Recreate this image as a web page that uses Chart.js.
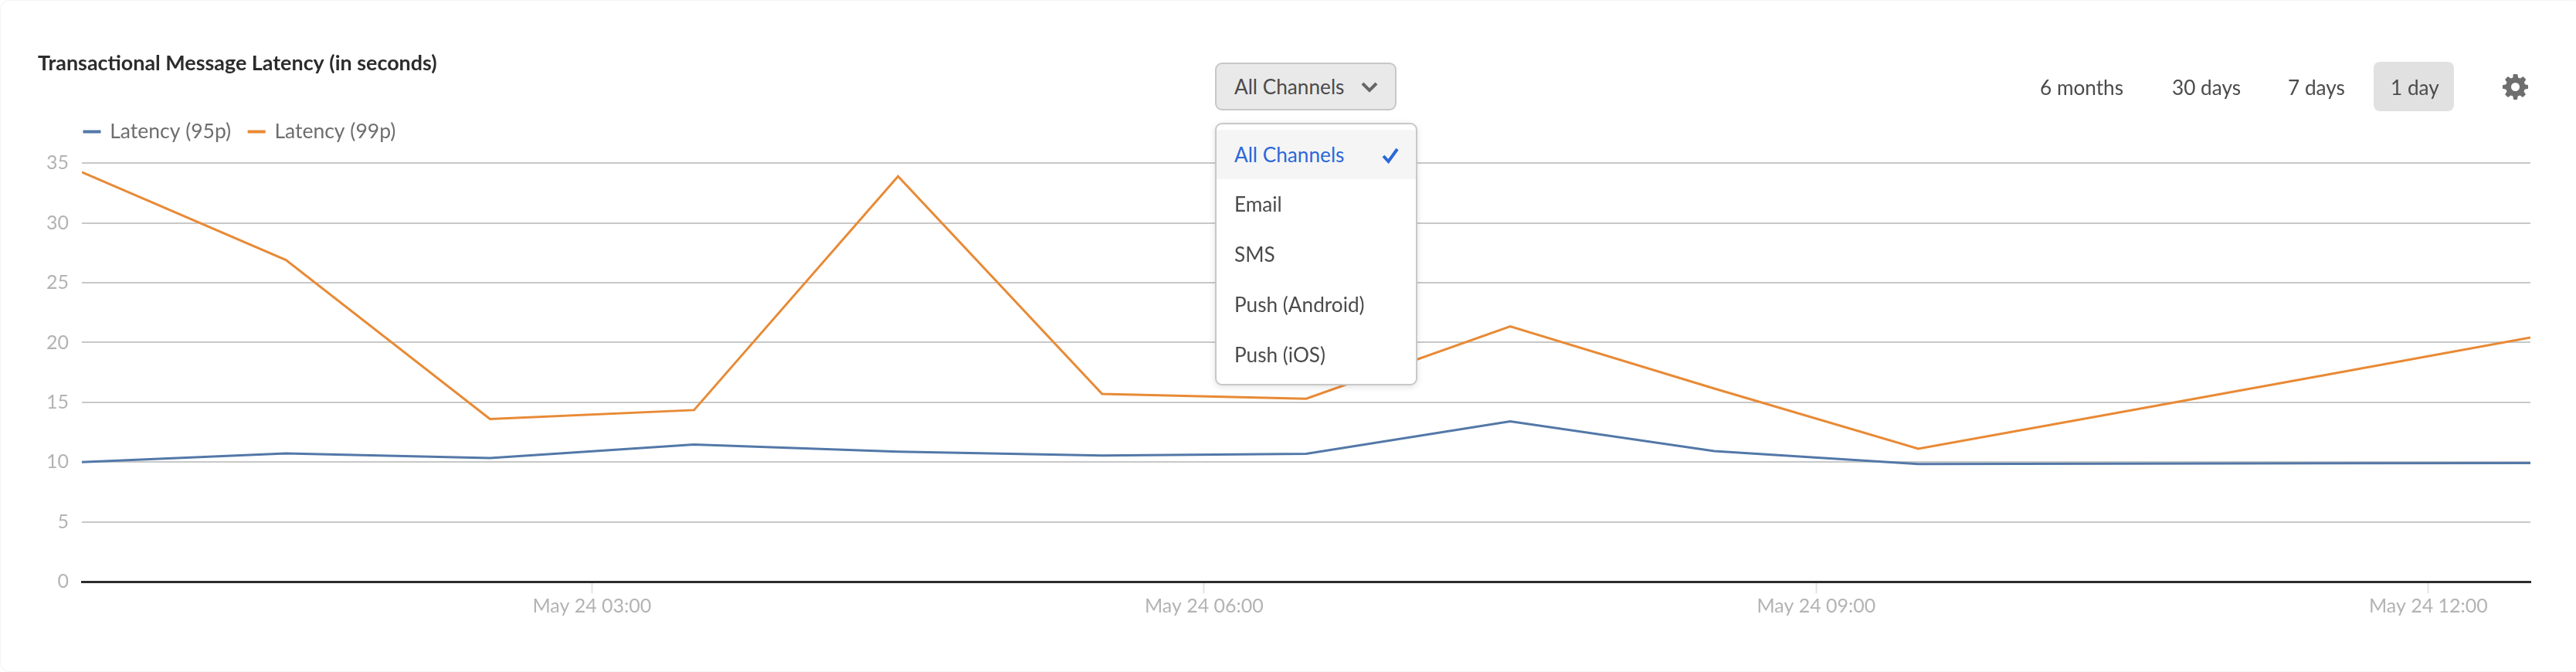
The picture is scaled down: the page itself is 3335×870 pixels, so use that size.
<!DOCTYPE html>
<html>
<head>
<meta charset="utf-8">
<style>
html,body{margin:0;padding:0;background:#fff;width:3335px;height:870px;overflow:hidden;font-family:Lato,sans-serif}
#card{position:absolute;left:0;top:0;width:3340px;height:868px;border:1px solid #f3f3f3;border-radius:12px;box-sizing:content-box}
#wrap{position:absolute;left:0;top:0;width:3335px;height:870px}
.ui{position:absolute;white-space:nowrap;color:#4b4b4b;font-size:26.2px;line-height:32px}
#btn{position:absolute;left:1573px;top:81px;width:235px;height:62px;box-sizing:border-box;background:#e9e9e9;border:2px solid #c8c8c8;border-radius:9px}
#menu{position:absolute;left:1573px;top:159px;width:262px;height:340px;box-sizing:border-box;background:#fff;border:2px solid #c8c8c8;border-radius:9px;box-shadow:0 2px 8px rgba(0,0,0,.12)}
#sel{position:absolute;left:1575px;top:168px;width:258px;height:64px;background:#f5f5f5}
#day{position:absolute;left:3073px;top:80px;width:104px;height:64px;background:#e1e1e1;border-radius:8px}
svg{position:absolute}
</style>
</head>
<body>
<div id="card"></div>
<div id="wrap"><canvas id="c" width="3335" height="870"></canvas></div>
<div id="btn"></div>
<div class="ui" style="left:1598px;top:96px">All Channels</div>
<svg style="left:1762px;top:105px" width="22" height="15" viewBox="0 0 22 15"><path d="M2 3 L11 12 L20 3" fill="none" stroke="#666" stroke-width="4"/></svg>
<div id="menu"></div>
<div id="sel"></div>
<div class="ui" style="left:1598px;top:184px;color:#2b68d8">All Channels</div>
<svg style="left:1788px;top:190px" width="24" height="22" viewBox="0 0 24 22"><path d="M3 12 L9.5 19 L21 3" fill="none" stroke="#2b68d8" stroke-width="4"/></svg>
<div class="ui" style="left:1598px;top:248px">Email</div>
<div class="ui" style="left:1598px;top:313px">SMS</div>
<div class="ui" style="left:1598px;top:378px">Push (Android)</div>
<div class="ui" style="left:1598px;top:443px">Push (iOS)</div>
<div id="day"></div>
<div class="ui" style="left:2641px;top:97px">6 months</div>
<div class="ui" style="left:2812px;top:97px">30 days</div>
<div class="ui" style="left:2962px;top:97px">7 days</div>
<div class="ui" style="left:3095px;top:97px">1 day</div>
<svg style="left:3240px;top:96px" width="33" height="33" viewBox="0 0 24 24"><path fill="#6e6e6e" fill-rule="evenodd" d="M10 0h4l.6 3.2 2 .8L19.300 2.200l2.800 2.800-1.800 2.700.8 2L24 10.300v3.400l-3.200.6-.8 2 1.800 2.700-2.800 2.800-2.700-1.800-2 .8L13.700 24h-3.400l-.6-3.200-2-.8-2.700 1.800-2.800-2.800 1.800-2.700-.8-2L0 13.700v-3.400l3.200-.6.8-2L2.200 5 5 2.200l2.700 1.800 2-.8zM12 8a4 4 0 1 0 0 8 4 4 0 0 0 0-8z"/></svg>

<script src="https://cdn.jsdelivr.net/npm/chart.js@4"></script>
<script>
const chartTitle = 'Transactional Message Latency (in seconds)';
const hours = [0.5,1.5,2.5,3.5,4.5,5.5,6.5,7.5,8.5,9.5,10.5,11.5,12.5];
const latency95 = [10.0,10.72,10.33,11.47,10.87,10.55,10.7,13.4,10.92,9.84,9.87,9.9,9.92];
const latency99 = [34.25,26.9,13.6,14.35,33.9,15.7,15.3,21.35,16.15,11.12,14.2,17.3,20.42];
const tickHours = [3,6,9,12];
const tickLabels = ['May 24 03:00','May 24 06:00','May 24 09:00','May 24 12:00'];
const yTicks = [0,5,10,15,20,25,30,35];
const FONT = 'Lato, sans-serif';

const shiftBlocks = {
  id:'shiftBlocks',
  afterLayout(chart){
    chart.titleBlock.left = 49;
    chart.legend.left = 86;
    chart.legend.top -= 17.5;
  }
};

new Chart(document.getElementById('c'),{
  type:'line',
  data:{
    datasets:[
      {label:'Latency (95p)',data:hours.map((h,i)=>({x:h,y:latency95[i]})),borderColor:'#5378a8',backgroundColor:'#5378a8',borderWidth:3,pointRadius:0,tension:0},
      {label:'Latency (99p)',data:hours.map((h,i)=>({x:h,y:latency99[i]})),borderColor:'#e88a36',backgroundColor:'#e88a36',borderWidth:3,pointRadius:0,tension:0}
    ]
  },
  plugins:[shiftBlocks],
  options:{
    responsive:false,
    animation:false,
    devicePixelRatio:1,
    layout:{padding:{left:0,right:59,top:0,bottom:0}},
    plugins:{
      tooltip:{enabled:false},
      title:{display:true,text:chartTitle,align:'start',color:'#2c2c2c',
        font:{family:FONT,size:26.9,weight:'bold'},padding:{top:66,bottom:53.5}},
      legend:{position:'top',align:'start',
        labels:{color:'#6e6e6e',font:{family:FONT,size:26.5},boxWidth:20,boxHeight:1,padding:23}}
    },
    scales:{
      x:{type:'linear',min:0.5,max:12.5,
        afterBuildTicks(s){s.ticks=tickHours.map(v=>({value:v}));},
        afterFit(s){s.height=117;},
        border:{display:true,color:'#2c2c2c',width:3},
        grid:{drawOnChartArea:false,drawTicks:true,tickLength:15,tickColor:'#e2e2e2',tickWidth:2},
        ticks:{autoSkip:false,maxRotation:0,color:'#b3b3b3',padding:2,font:{family:FONT,size:25},
          callback(v){return tickLabels[tickHours.indexOf(v)];}}
      },
      y:{min:0,max:35,
        afterBuildTicks(s){s.ticks=yTicks.map(v=>({value:v}));},
        afterFit(s){s.width=106;},
        border:{display:false},
        grid:{color:'#c8c8c8',lineWidth:2,drawTicks:false},
        ticks:{color:'#b3b3b3',padding:17,font:{family:FONT,size:25}}
      }
    }
  }
});
</script>
</body>
</html>
